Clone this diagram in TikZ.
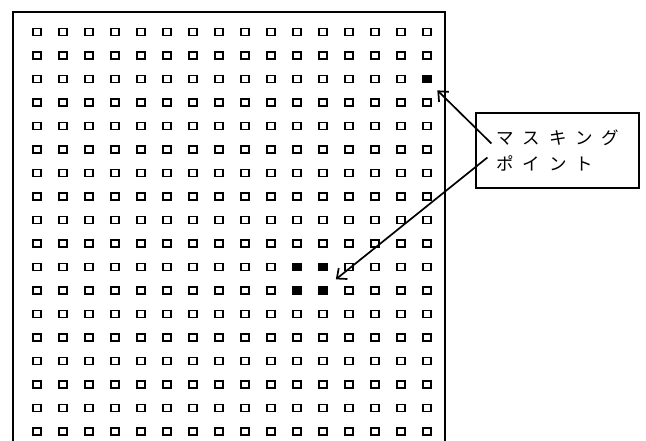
\documentclass[tikz,border=0pt]{standalone}
\usepackage{fontspec}
\newfontfamily\jpfont[LetterSpace=52]{Noto Sans CJK JP}
\usetikzlibrary{arrows.meta, positioning, calc}

\begin{document}
\begin{tikzpicture}[
        x=1pt, y=-1pt,
        cell/.style={
            rectangle,
            draw=black,
            line width=1.7pt,
            fill=white,
            inner sep=0pt,
            minimum width=8pt,
            minimum height=7pt
        },
        masked/.style={
            cell,
            fill=black
        },
        callout/.style={
            rectangle,
            draw=black,
            line width=1.2pt,
            align=left,
            minimum width=163pt,
            minimum height=75pt,
            text width=123pt,
            inner xsep=20pt,
            font=\jpfont\fontsize{17.5pt}{26pt}\selectfont
        },
        pointer/.style={
            -{Straight Barb[length=8pt, width=14pt, line width=1.7pt]},
            draw=black,
            line width=1.7pt
        }
    ]

    \useasboundingbox (0,0) rectangle (646,441);

    % Frame (open at the bottom)
    \draw[line width=1.4pt] (13,441) |- (445,12) -- (445,441);

    % Grid of points (18 rows x 16 columns)
    \foreach \r in {1,...,18} {
        \foreach \c in {1,...,16} {
            \node[cell] (sq-\r-\c) at ({37+26*(\c-1)}, {32+23.5*(\r-1)}) {};
        }
    }

    % Masking points
    \node[masked] at (sq-3-16) {};
    \node[masked] at (sq-11-11) {};
    \node[masked] at (sq-11-12) {};
    \node[masked] at (sq-12-11) {};
    \node[masked] at (sq-12-12) {};

    % Label (Right)
    \node[callout] (label) at (557.5,150.5) {マスキング\\ポイント};

    % Arrows
    \draw[pointer] ([xshift=16pt, yshift=7pt]label.west) -- ([xshift=5.5pt, yshift=-7pt]sq-3-16.south east);
    \draw[pointer] ([xshift=12pt, yshift=-7pt]label.west) -- ([xshift=8pt, yshift=-8pt]sq-11-12.south east);

\end{tikzpicture}
\end{document}
